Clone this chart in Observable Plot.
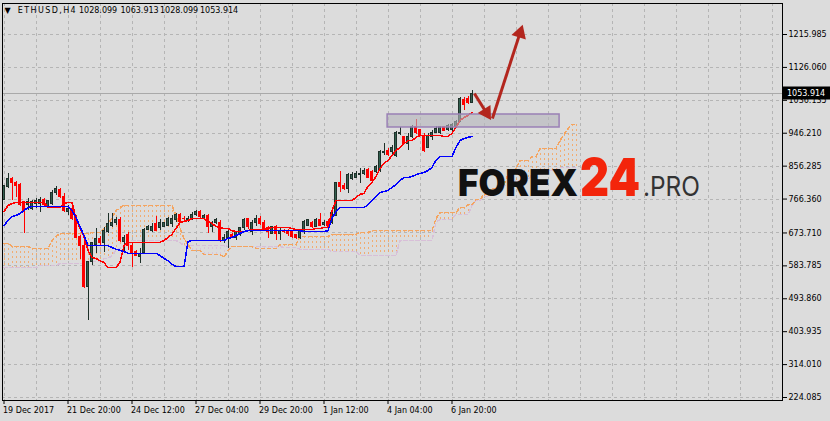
<!DOCTYPE html>
<html><head><meta charset="utf-8">
<script src="https://cdn.jsdelivr.net/npm/d3@7"></script>
<script src="https://cdn.jsdelivr.net/npm/@observablehq/plot@0.6"></script>
<style>
html,body{margin:0;padding:0;background:#dcdcdc;}
#chart{width:830px;height:421px;overflow:hidden;}
</style></head><body><div id="chart"></div>
<script>
// ETHUSD H4 candles (bar index 0 = 19 Dec 2017)
const open = [765,798,822,811,806,757,749,738,754,754,765,746,754,782,792,773,732,740,716,664,637,525,593,642,656,645,675,694,702,710,650,667,639,623,609,618,683,680,697,686,691,694,697,708,724,713,708,711,724,730,713,721,689,700,702,653,659,667,659,667,686,711,675,700,713,702,686,672,689,672,680,680,675,667,659,675,694,702,691,710,696,705,702,721,809,803,795,822,825,831,836,847,839,839,842,891,899,894,885,943,935,918,935,962,954,940,907,935,948,946,962,954,954,962,978,1038,1041,1028.099];
const high = [803,836,825,814,809,760,768,762,768,771,768,762,790,801,795,782,749,757,721,667,653,593,645,686,664,689,727,727,716,716,667,675,645,626,631,686,694,699,719,710,702,716,721,727,727,719,719,730,735,735,724,724,705,713,708,670,680,672,675,686,713,713,708,721,719,708,691,691,694,686,683,683,678,670,683,708,710,705,713,727,708,710,732,811,842,809,836,839,842,850,850,850,844,858,899,918,904,913,951,962,937,946,967,984,956,946,946,954,965,965,965,970,973,981,1044,1044,1047,1063.913];
const low = [762,795,762,771,746,672,735,735,740,730,743,743,749,776,768,730,721,708,659,601,522,435,585,617,639,620,672,689,694,648,617,626,579,609,590,615,680,675,678,680,689,691,689,702,702,705,702,708,719,711,711,672,675,697,648,645,631,659,653,664,680,683,667,691,694,678,659,670,653,653,672,664,659,656,656,670,691,686,689,691,691,688,697,719,784,790,782,817,822,809,831,825,811,836,839,885,883,885,880,940,915,899,932,943,937,893,904,926,946,943,951,951,951,959,976,1008,1025,1028.099];
const close = [801,822,811,801,749,735,757,757,760,765,749,760,782,795,771,735,740,713,661,637,525,593,645,656,645,680,699,702,710,653,659,639,618,612,615,683,689,689,678,702,700,713,713,724,705,711,713,724,730,716,721,689,700,708,653,661,675,659,675,686,708,689,700,713,697,683,675,689,672,680,675,670,664,661,680,705,708,691,710,694,702,694,727,809,798,795,831,833,836,836,844,825,817,853,894,896,888,907,946,948,918,937,962,946,940,899,940,948,959,962,951,967,970,978,1041,1022,1030,1053.914];

// Ichimoku lines
const tenkan = [732,749,754,757,757,757,757,757,757,757,757,743,743,743,743,754,757,757,713,686,664,626,607,604,598,593,579,579,579,593,639,648,648,648,648,648,648,648,648,648,653,661,670,686,702,705,708,713,713,713,713,705,700,691,689,686,686,680,678,678,678,680,683,683,683,683,686,689,689,689,689,689,686,683,683,683,683,683,686,686,689,689,735,762,762,762,762,762,771,779,782,801,812,828,850,864,872,885,899,907,918,926,926,935,940,940,940,940,940,940,937,937,946,962,981,989,995,1003];
const kijun = [694,708,719,721,727,735,743,746,746,746,746,746,746,746,746,746,746,735,716,691,667,639,639,639,639,639,639,634,629,626,623,618,618,618,618,618,618,618,618,612,604,598,588,582,582,582,650,653,653,653,653,653,653,653,653,653,659,661,667,672,678,680,680,680,680,680,680,680,680,680,680,680,680,680,680,678,678,678,678,678,678,680,713,732,743,743,743,743,743,743,743,751,762,773,784,787,790,798,806,817,825,825,828,833,836,839,844,853,872,883,883,883,883,907,926,932,935,937];
// Senkou spans, already shifted 26 bars forward (144 bars)
const spanA = [645,645,637,637,637,637,637,631,631,631,631,631,653,664,672,672,672,672,672,672,672,672,675,675,675,686,697,716,735,743,749,749,749,749,749,749,749,749,749,749,749,749,749,721,686,659,642,626,626,626,615,615,615,615,615,607,626,637,637,637,637,637,637,631,631,631,631,631,631,642,642,642,642,642,664,664,664,664,664,664,664,664,670,670,670,670,670,670,670,675,675,675,680,680,680,680,680,680,680,680,680,680,680,680,680,680,680,680,713,730,730,730,730,730,743,743,751,751,765,765,779,779,795,795,795,806,833,833,850,872,872,872,883,883,904,904,904,904,904,926,943,959,970,970];
const spanB = [579,579,579,579,579,579,579,579,579,585,585,585,585,585,590,590,590,590,590,590,590,596,596,596,596,604,604,612,626,631,639,639,653,653,653,653,653,653,653,653,653,653,653,653,648,639,639,639,639,639,639,639,639,639,639,639,637,637,637,637,637,637,637,637,637,637,637,637,637,637,634,634,634,634,629,629,629,629,629,629,629,629,623,623,623,623,623,623,623,612,612,612,612,612,612,612,612,612,612,653,653,653,653,653,653,653,653,653,702,711,711,711,711,724,724,724,724,749,762,762,773,773,782,782,803,803,803,803,817,817,817,817,834,834,834,834,844,844,844,853,853,853,853,853];

// Axes
const yTicks = [1215.985,1126.060,1036.135,946.210,856.285,766.360,673.710,583.785,493.860,403.935,314.010,224.085];
const xTickBars = [0,16,32,48,64,80,96,112];
const xTickLabels = ["19 Dec 2017","21 Dec 20:00","24 Dec 12:00","27 Dec 04:00","29 Dec 20:00","1 Jan 12:00","4 Jan 04:00","6 Jan 20:00"];
const headerSymbol = "ETHUSD,H4";
const headerOHLC = ["1028.099","1063.913","1028.099","1053.914"];

// Annotations (bar index, price)
const zone = [{from: 95.9, to: 138.9, low: 961.9, high: 997.4}];
const arrowFromX = [117.6, 122.1];
const arrowFromY = [1054.8, 986.5];
const arrowToX = [120.6, 129.0];
const arrowToY = [1002.3, 1219.8];

const xDomain = [-0.375, 194.625];
const yDomain = [215.9, 1300.7];
const marginLeft = 2, marginRight = 48, marginTop = 3, marginBottom = 21, W = 830, H = 421;
const kx = (W - marginLeft - marginRight) / (xDomain[1] - xDomain[0]);
const ky = (H - marginTop - marginBottom) / (yDomain[1] - yDomain[0]);

const bullFill = "#33604f", bullEdge = "#1e3029", bear = "#ff0000";
const candles = open.map((o, i) => ({i, o, h: high[i], l: low[i], c: close[i], up: close[i] >= o}));
const tk = tenkan.map((v, i) => ({i, v}));
const kj = kijun.map((v, i) => ({i, v}));
const cloud = spanA.map((a, j) => ({j, a, b: spanB[j]}));
const gridBars = d3.range(0, 195, 8);
const arrows = arrowFromX.map((x1, k) => {
  const x2 = arrowToX[k], y1 = arrowFromY[k], y2 = arrowToY[k];
  const rot = Math.atan2((x2 - x1) * kx, (y2 - y1) * ky) * 180 / Math.PI;
  return {x1, y1, x2, y2, rot};
});
const last = close[close.length - 1];
const arrowColor = "#b3261e";
const gridColor = "#b5b5b5";

const chart = Plot.plot({
  width: W, height: H, marginLeft, marginRight, marginTop, marginBottom,
  style: {background: "#dcdcdc", fontFamily: "'DejaVu Sans', sans-serif", fontSize: "8px", color: "#000", overflow: "visible"},
  x: {domain: xDomain, ticks: xTickBars, tickFormat: () => "", tickSize: 4, label: null, axis: "bottom"},
  y: {domain: yDomain, ticks: yTicks, tickFormat: d => d.toFixed(3), tickSize: 4, tickPadding: 2, axis: "right", label: null},
  color: {type: "identity"},
  marks: [
    Plot.ruleY(yTicks, {stroke: gridColor, strokeDasharray: "3,3", shapeRendering: "crispEdges"}),
    Plot.ruleX(gridBars, {stroke: gridColor, strokeDasharray: "3,3", shapeRendering: "crispEdges"}),
    Plot.ruleX(cloud, {x: "j", y1: "a", y2: "b", stroke: d => d.a >= d.b ? "#f4a460" : "#d8bfd8", strokeDasharray: "2,3", strokeOpacity: 0.85, shapeRendering: "crispEdges"}),
    Plot.line(cloud, {x: "j", y: "b", stroke: "#d8bfd8", strokeDasharray: "3,3", shapeRendering: "crispEdges"}),
    Plot.line(cloud, {x: "j", y: "a", stroke: "#f4a460", strokeDasharray: "3,3", shapeRendering: "crispEdges"}),
    Plot.ruleY([last], {stroke: "#a9a9a9", shapeRendering: "crispEdges"}),
    Plot.ruleX(candles, {x: "i", y1: "l", y2: "h", stroke: d => d.up ? bullEdge : bear, shapeRendering: "crispEdges"}),
    Plot.rect(candles, {x1: d => d.i - 0.25, x2: d => d.i + 0.25, y1: "o", y2: "c", fill: d => d.up ? bullFill : bear, stroke: d => d.up ? bullEdge : bear, shapeRendering: "crispEdges"}),
    Plot.line(tk, {x: "i", y: "v", stroke: "#ff0000", shapeRendering: "crispEdges"}),
    Plot.line(kj, {x: "i", y: "v", stroke: "#0000ff", shapeRendering: "crispEdges"}),
    Plot.rect(zone, {x1: "from", x2: "to", y1: "low", y2: "high", fill: "#b4b4bc", fillOpacity: 0.62, stroke: "#9a80b6", strokeWidth: 1.5}),
    Plot.link(arrows, {x1: "x1", y1: "y1", x2: "x2", y2: "y2", stroke: arrowColor, strokeWidth: 3}),
    Plot.dot(arrows, {x: "x2", y: "y2", symbol: "triangle", r: 5.6, fill: arrowColor, stroke: "none", rotate: "rot"}),
    Plot.frame({stroke: "#000", shapeRendering: "crispEdges"}),
    Plot.text(xTickBars.map((b, k) => ({b, t: xTickLabels[k]})), {x: "b", text: "t", frameAnchor: "bottom", textAnchor: "start", lineAnchor: "top", dx: -1, dy: 7, fill: "#000"})
  ]
});

document.getElementById("chart").appendChild(chart);
const svg = d3.select(chart);
const yScale = chart.scale("y");
const yp = yScale.apply(last);

// header
const hdr = svg.append("g").attr("text-anchor", "start").attr("font-family", "'DejaVu Sans', sans-serif").attr("font-size", 8).attr("fill", "#000");
hdr.append("text").attr("x", 4.5).attr("y", 13).text("\u25BC");
hdr.append("text").attr("x", 17.7).attr("y", 13).attr("textLength", 58).attr("lengthAdjust", "spacing").text(headerSymbol);
[79, 120.5, 160, 200].forEach((x, k) => hdr.append("text").attr("x", x).attr("y", 13).text(headerOHLC[k]));

// current price label
const pl = svg.append("g").attr("text-anchor", "start");
pl.append("rect").attr("x", 783).attr("y", Math.round(yp) - 6.5).attr("width", 47).attr("height", 13).attr("fill", "#000");
pl.append("text").attr("x", 787).attr("y", Math.round(yp) + 3).attr("fill", "#fff")
  .attr("font-family", "'DejaVu Sans', sans-serif").attr("font-size", 8).text(last.toFixed(3));

// watermark logo
const logo = svg.append("g").attr("text-anchor", "start").attr("font-family", "Inter, Lato, 'Open Sans', sans-serif");
logo.append("text").attr("x", 458).attr("y", 196).attr("font-size", 36.5).attr("font-weight", 900).attr("fill", "#111").attr("textLength", 120).attr("lengthAdjust", "spacingAndGlyphs").text("FOREX");
logo.append("text").attr("x", 580).attr("y", 196).attr("font-size", 52).attr("font-weight", 900).attr("fill", "#f3250b").attr("textLength", 60).attr("lengthAdjust", "spacingAndGlyphs").text("24");
logo.append("text").attr("x", 643).attr("y", 196).attr("font-size", 27).attr("font-weight", 400).attr("fill", "#333").attr("textLength", 57).attr("lengthAdjust", "spacingAndGlyphs").text(".PRO");
</script>
</body></html>
